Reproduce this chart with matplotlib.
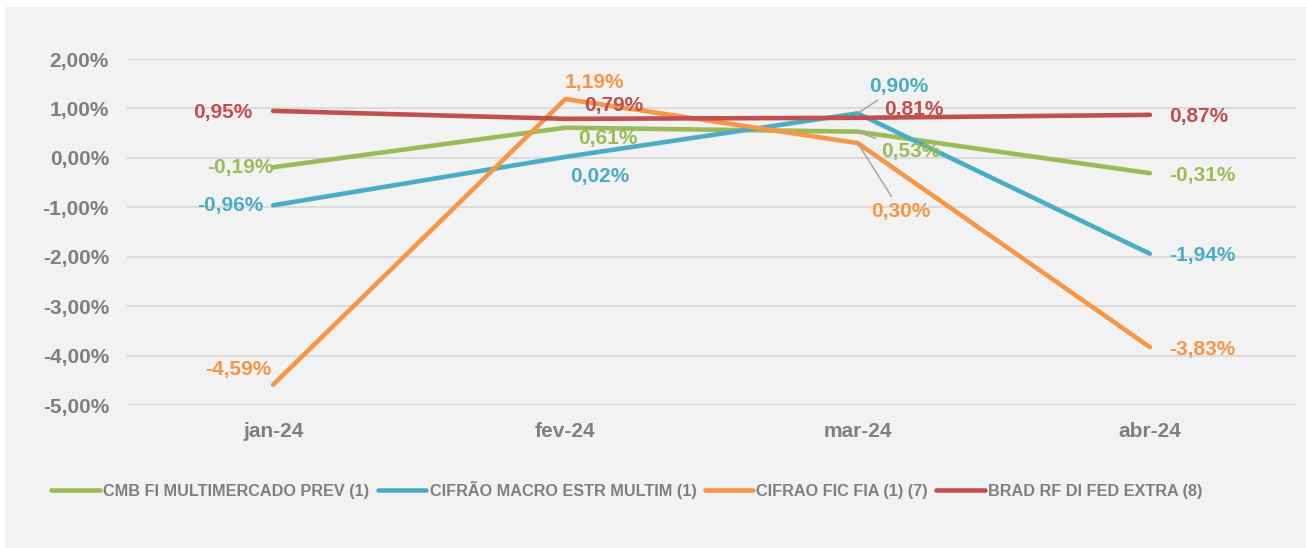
import matplotlib.pyplot as plt
from matplotlib.patches import Rectangle
from matplotlib.ticker import FuncFormatter

plt.rcParams['font.family'] = ['Liberation Sans', 'DejaVu Sans']
plt.rcParams['font.weight'] = 'bold'

months = ['jan-24', 'fev-24', 'mar-24', 'abr-24']
names = ['CMB FI MULTIMERCADO PREV (1)', 'CIFRÃO MACRO ESTR MULTIM (1)',
         'CIFRAO FIC FIA (1) (7)', 'BRAD RF DI FED EXTRA (8)']
cmb = [-0.19, 0.61, 0.53, -0.31]
macro = [-0.96, 0.02, 0.90, -1.94]
fia = [-4.59, 1.19, 0.30, -3.83]
brad = [0.95, 0.79, 0.81, 0.87]
series = [cmb, macro, fia, brad]
colors = ['#9BBB59', '#4BACC6', '#F79646', '#C0504D']

# label offsets in pixels (dx, dy) from each point, per series
offs = [
    [(-33, 0), (42, -11), (53, -20), None],
    [(-43, 0), (34, -20), (41, 27), None],
    [(-35, 15), (29, 17), (43, -68), None],
    [(-50, -2), (48, 13), (56, 8), None],
]
leaders = {(0, 2), (1, 2), (2, 2)}

fig = plt.figure(figsize=(13.06, 5.48), dpi=100)
fig.patches.append(Rectangle((5 / 1306, 0), 1, 1 - 7 / 548, transform=fig.transFigure,
                             facecolor='#F2F2F2', edgecolor='none', zorder=-10))
ax = fig.add_axes([127 / 1306, 1 - 405 / 548, 1169 / 1306, 346 / 548])
ax.set_facecolor('none')

x = range(len(months))
for s, vals in enumerate(series):
    ax.plot(x, vals, color=colors[s], lw=3.3, solid_capstyle='round', label=names[s], zorder=3 + s)

for s, vals in enumerate(series):
    for i, v in enumerate(vals):
        txt = f'{v:.2f}%'.replace('.', ',')
        if offs[s][i] is None:
            ax.annotate(txt, (i, v), xytext=(19, -2), textcoords='offset pixels',
                        ha='left', va='center', color=colors[s], fontsize=15,
                        fontweight='bold', zorder=20)
        else:
            ap = None
            if (s, i) in leaders:
                ap = dict(arrowstyle='-', color='#A6A6A6', lw=1.1, shrinkA=2, shrinkB=1)
            ax.annotate(txt, (i, v), xytext=offs[s][i], textcoords='offset pixels',
                        ha='center', va='center', color=colors[s], fontsize=15,
                        fontweight='bold', zorder=20, arrowprops=ap)

ax.set_xlim(-0.5, 3.5)
ax.set_ylim(-5, 2)
ax.set_yticks(range(-5, 3))
ax.yaxis.set_major_formatter(FuncFormatter(lambda v, p: f'{v:.2f}%'.replace('.', ',')))
ax.set_xticks(list(x))
ax.set_xticklabels(months)
ax.grid(axis='y', color='#D9D9D9', lw=1.3)
ax.set_axisbelow(True)
for sp in ax.spines.values():
    sp.set_visible(False)
ax.tick_params(axis='both', length=0, labelsize=15, labelcolor='#7F7F7F')
ax.tick_params(axis='y', pad=13)
ax.tick_params(axis='x', pad=12)

fig.legend(loc='center', bbox_to_anchor=(627 / 1306, 1 - 490 / 548), ncol=4, frameon=False,
           fontsize=11.7, handlelength=3.0, handletextpad=0.2, columnspacing=0.5,
           labelcolor='#7F7F7F')

fig.savefig('out.png', dpi=100)
